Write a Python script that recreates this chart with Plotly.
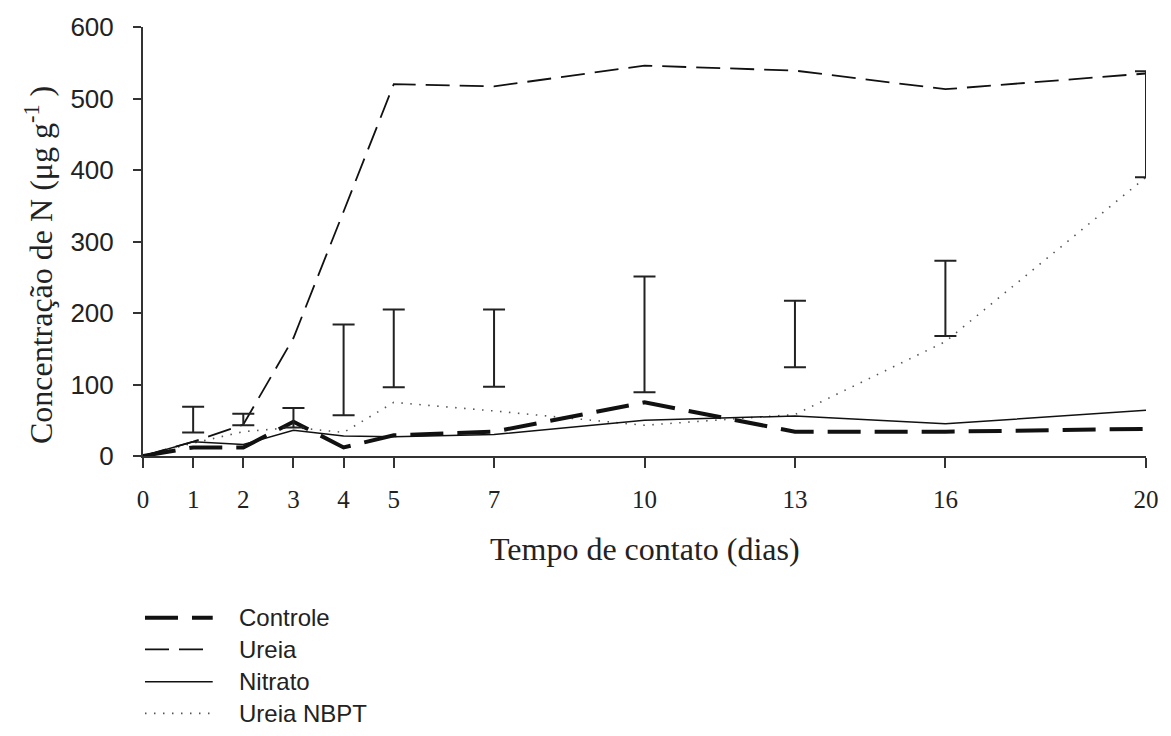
import plotly.graph_objects as go

# Sampling days
dias = [0, 1, 2, 3, 4, 5, 7, 10, 13, 16, 20]

# N concentration (ug g-1) per treatment
controle = [0, 12, 12, 48, 12, 29, 34, 75, 34, 34, 38]
ureia = [0, 20, 44, 165, 342, 520, 517, 546, 539, 513, 535]
nitrato = [0, 20, 16, 36, 28, 27, 30, 50, 56, 45, 64]
ureia_nbpt = [0, 18, 34, 40, 33, 75, 63, 43, 58, 160, 390]

# Least significant difference bars (lower / upper bound)
dms_dias = [1, 2, 3, 4, 5, 7, 10, 13, 16, 20]
dms_inf = [33, 43, 40, 57, 96, 97, 89, 124, 168, 390]
dms_sup = [69, 59, 67, 184, 205, 205, 251, 217, 273, 538]

y_ticks = [0, 100, 200, 300, 400, 500, 600]

SERIF = "Liberation Serif, Times New Roman, serif"
SANS = "Liberation Sans, Arial, sans-serif"

styles = {
    "Controle": dict(color="#111111", width=4, dash="33px,14px"),
    "Ureia": dict(color="#111111", width=1.8, dash="24px,10px"),
    "Nitrato": dict(color="#111111", width=1.5, dash="solid"),
    "Ureia NBPT": dict(color="#555555", width=1.6, dash="1.5px,7.5px"),
}
series = {
    "Controle": controle,
    "Ureia": ureia,
    "Nitrato": nitrato,
    "Ureia NBPT": ureia_nbpt,
}

fig = go.Figure()

# Draw dotted first so the others sit on top
for name in ["Ureia NBPT", "Nitrato", "Ureia", "Controle"]:
    fig.add_trace(go.Scatter(
        x=dias, y=series[name], mode="lines", name=name,
        line=styles[name], showlegend=False, hoverinfo="skip",
    ))

centro = [(a + b) / 2 for a, b in zip(dms_inf, dms_sup)]
meia = [(b - a) / 2 for a, b in zip(dms_inf, dms_sup)]
fig.add_trace(go.Scatter(
    x=dms_dias, y=centro, mode="markers",
    marker=dict(size=1, opacity=0),
    error_y=dict(type="data", array=meia, symmetric=True,
                 color="#222222", thickness=2, width=11),
    showlegend=False, hoverinfo="skip",
))

W, H = 1171, 736
L, R, T, B = 143, 21, 21, 280
pw, ph = W - L - R, H - T - B


def px_x(px):
    return (px - L) / pw


def px_y(py):
    return (H - B - py) / ph


# Legend drawn beneath the axes: line sample + label
leg_rows = [("Controle", 620), ("Ureia", 652), ("Nitrato", 685), ("Ureia NBPT", 717)]
shapes = []
annotations = []
for name, py in leg_rows:
    st = styles[name]
    shapes.append(dict(
        type="line", xref="paper", yref="paper",
        x0=px_x(145), x1=px_x(213), y0=px_y(py), y1=px_y(py),
        line=dict(color=st["color"], width=st["width"], dash=st["dash"]),
    ))
    annotations.append(dict(
        text=name, xref="paper", yref="paper",
        x=px_x(237), y=px_y(py), xanchor="left", yanchor="middle",
        showarrow=False, font=dict(family=SANS, size=24, color="#222222"),
    ))

annotations.append(dict(
    text="Tempo de contato (dias)", xref="paper", yref="paper",
    x=0.5, y=px_y(550), xanchor="center", yanchor="middle",
    showarrow=False, font=dict(family=SERIF, size=32, color="#222222"),
))
annotations.append(dict(
    text="Concentração de N (μg g<sup>-1</sup> )", xref="paper", yref="paper",
    x=px_x(38), y=px_y(262), xanchor="center", yanchor="middle",
    textangle=-90, showarrow=False,
    font=dict(family=SERIF, size=32, color="#222222"),
))

fig.update_layout(
    width=W, height=H,
    margin=dict(l=L, r=R, t=T, b=B),
    paper_bgcolor="white", plot_bgcolor="white",
    shapes=shapes, annotations=annotations,
    showlegend=False,
)
fig.update_xaxes(
    range=[0, 20], tickvals=dias, ticktext=[str(d) for d in dias],
    showgrid=False, zeroline=False,
    showline=True, linecolor="#333333", linewidth=2,
    ticks="outside", ticklen=10, tickwidth=2, tickcolor="#333333",
    tickfont=dict(family=SERIF, size=25, color="#222222"),
    ticklabelstandoff=10,
)
fig.update_yaxes(
    range=[0, 600], tickvals=y_ticks,
    showgrid=False, zeroline=False,
    showline=True, linecolor="#333333", linewidth=2,
    ticks="outside", ticklen=8, tickwidth=2, tickcolor="#333333",
    tickfont=dict(family=SANS, size=26, color="#222222"),
    ticklabelstandoff=14,
)

fig.write_html("out.html")
